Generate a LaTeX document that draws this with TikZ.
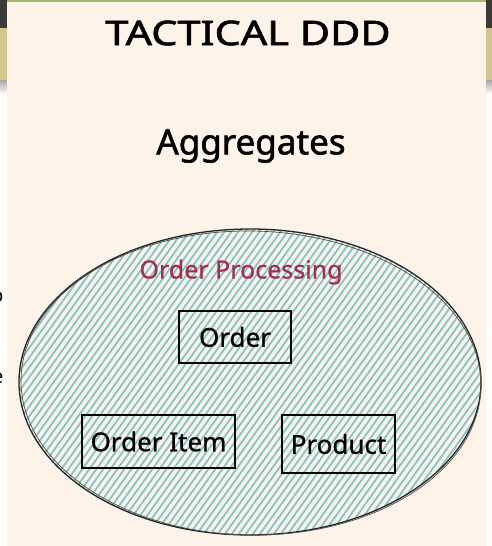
\documentclass[tikz,border=0pt]{standalone}
\usepackage{fontspec}
\setmainfont{Noto Sans}
\newfontfamily\heavyfont[FakeBold=1.6]{Noto Sans}
\newfontfamily\midfont[FakeBold=0.8]{Noto Sans}
\definecolor{cream}{RGB}{253,243,232}
\definecolor{hatch}{RGB}{132,196,202}
\definecolor{maroon}{RGB}{160,48,84}
\definecolor{topdark}{RGB}{58,58,56}
\definecolor{toptan}{RGB}{214,196,142}
\definecolor{topgreen}{RGB}{168,184,120}
\tikzset{
  boxnode/.style={draw=black, line width=1.4pt, inner sep=0pt, minimum height=52pt, font=\midfont\fontsize{26}{28}\selectfont},
}
\begin{document}
\begin{tikzpicture}[x=1pt,y=-1pt]
\useasboundingbox (0,0) rectangle (492,546);
\fill[white] (0,0) rectangle (492,546);
% outside strips
\foreach \xa/\xb in {0/7,486/492}{
  \fill[topdark] (\xa,0) rectangle (\xb,28);
  \fill[toptan] (\xa,28) rectangle (\xb,80);
  \shade[top color=gray!70, bottom color=white] (\xa,80) rectangle (\xb,94);
}
% cut-off letters on the left
\begin{scope}
\clip (0,250) rectangle (7,400);
\node[font=\fontsize{20}{22}\selectfont, anchor=east] (lo) at (7,297) {o};
\node[font=\fontsize{20}{22}\selectfont, anchor=east] (le) at (7,378) {e};
\end{scope}
% panel
\fill[cream] (7,0) rectangle (486,546);
\fill[topgreen] (7,0) rectangle (486,1.6);
% titles
\node[font=\heavyfont\fontsize{34}{38}\selectfont, xscale=1.22] (title) at (248,33) {TACTICAL DDD};
\node[font=\heavyfont\fontsize{35}{38}\selectfont] (agg) at (251,146) {Aggregates};
% hatched ellipse
\begin{scope}
\clip (250,382) ellipse [x radius=231, y radius=153];
\foreach \i in {-420,-413,...,500}{
  \draw[hatch, line width=1.8pt] (\i,545) -- (\i+240,210);
}
\end{scope}
\draw[black!85, line width=1.3pt] (250,382) ellipse [x radius=231, y radius=153];
\draw[black!70, line width=0.7pt, rotate around={-1:(250,382)}] (251,383) ellipse [x radius=230, y radius=152];
\node[maroon, font=\midfont\fontsize{25}{28}\selectfont] (proc) at (241,272) {Order Processing};
% boxes
\node[boxnode, minimum width=112pt] (order) at (235,337) {Order};
\node[boxnode, minimum width=153pt, minimum height=53pt] (item) at (158.5,441.5) {Order Item};
\node[boxnode, minimum width=113pt, minimum height=58pt] (product) at (338.5,444) {Product};
\end{tikzpicture}
\end{document}
